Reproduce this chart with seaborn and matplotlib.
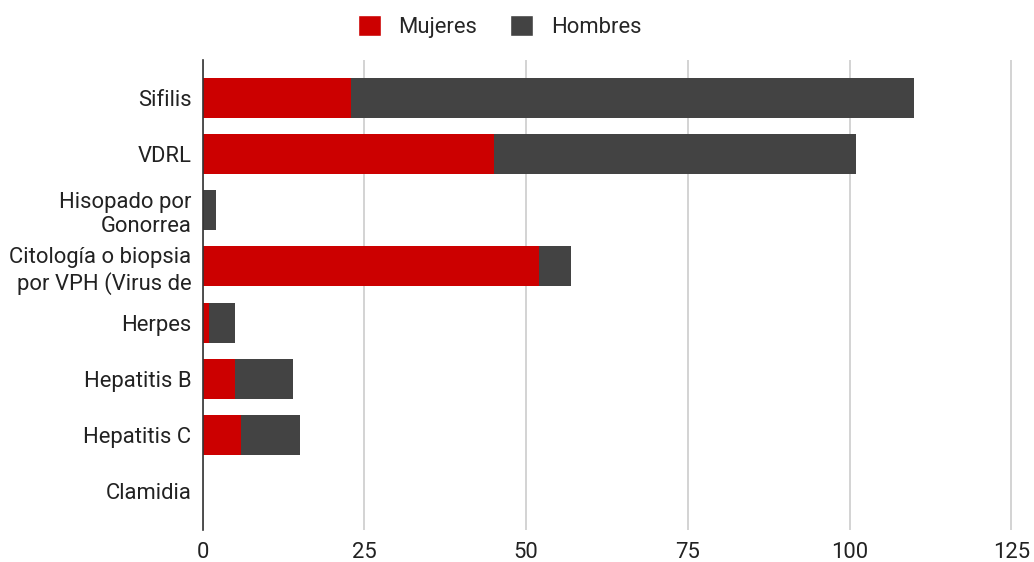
import matplotlib
matplotlib.use("Agg")
import matplotlib.pyplot as plt
import seaborn as sns
import pandas as pd
from matplotlib.patches import Patch

categorias = ["Sifilis", "VDRL", "Hisopado por\nGonorrea",
              "Citología o biopsia\npor VPH (Virus de", "Herpes",
              "Hepatitis B", "Hepatitis C", "Clamidia"]
mujeres = [23, 45, 0, 52, 1, 5, 6, 0]
hombres = [87, 56, 2, 5, 4, 9, 9, 0]
ticks_x = [0, 25, 50, 75, 100, 125]

color_mujeres = "#cc0000"
color_hombres = "#434343"
fs = 15.8

sns.set_theme(style="white")
plt.rcParams["font.family"] = ["Roboto", "DejaVu Sans"]

df = pd.DataFrame({"categoria": categorias, "Mujeres": mujeres, "Hombres": hombres})
df["total"] = df["Mujeres"] + df["Hombres"]

fig = plt.figure(figsize=(10.34, 5.62), dpi=100)
ax = fig.add_axes([0.196, 0.057, 0.784, 0.837])

sns.barplot(data=df, y="categoria", x="total", color=color_hombres,
            saturation=1, width=0.71, ax=ax, orient="h", linewidth=0)
sns.barplot(data=df, y="categoria", x="Mujeres", color=color_mujeres,
            saturation=1, width=0.71, ax=ax, orient="h", linewidth=0)

ax.set_xlim(0, 125.3)
ax.set_ylim(7.69, -0.68)
ax.set_xticks(ticks_x)
ax.set_xticklabels([str(t) for t in ticks_x], fontsize=fs, color="#222222")
ax.tick_params(axis="y", labelsize=fs, labelcolor="#222222", length=0, pad=8)
ax.tick_params(axis="x", length=0, pad=9)
ax.set_xlabel("")
ax.set_ylabel("")
ax.xaxis.grid(True, color="#cccccc", linewidth=1.2)
ax.set_axisbelow(True)
for s in ["top", "right", "bottom"]:
    ax.spines[s].set_visible(False)
ax.spines["left"].set_color("#333333")
ax.spines["left"].set_linewidth(1.2)
ax.spines["left"].set_zorder(5)

handles = [Patch(facecolor=color_mujeres, label="Mujeres"),
           Patch(facecolor=color_hombres, label="Hombres")]
fig.legend(handles=handles, loc="upper center", bbox_to_anchor=(0.483, 1.008),
           ncol=2, frameon=False, fontsize=fs, handlelength=1.05,
           handleheight=1.05, handletextpad=0.8, columnspacing=1.5)

fig.savefig("out.png", dpi=100)
